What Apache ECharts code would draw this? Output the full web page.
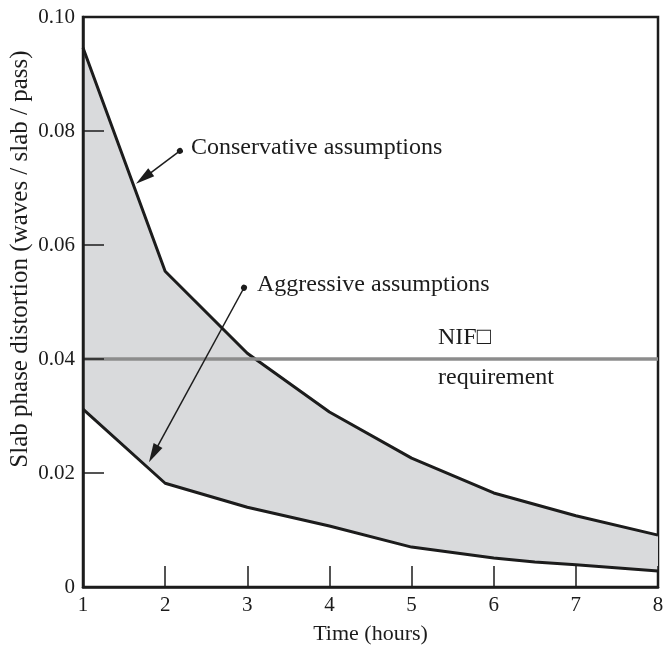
<!DOCTYPE html>
<html>
<head>
<meta charset="utf-8">
<style>
  html, body { margin: 0; padding: 0; background: #ffffff; }
  #chart { width: 663px; height: 645px; }
</style>
<script src="https://cdn.jsdelivr.net/npm/echarts@6/dist/echarts.min.js"></script>
</head>
<body>
<div id="chart"></div>
<script>
// Slab phase distortion versus time: band between two sets of assumptions
const hoursConservative = [1, 2, 3, 4, 5, 6, 7, 8];
const distortionConservative = [0.0946, 0.0554, 0.0410, 0.0307, 0.0226, 0.0165, 0.0125, 0.0091];

const hoursAggressive = [1, 2, 3, 4, 5, 6, 6.5, 7, 8];
const distortionAggressive = [0.0312, 0.0182, 0.0140, 0.0107, 0.0070, 0.0051, 0.0044, 0.0039, 0.0028];

// NIF requirement level
const requirementLevel = 0.04;
const requirementSpan = [1, 8];

// Callout arrows: [label dot, arrowhead centre] in data units
const conservativeArrow = [[2.18, 0.0765], [1.738, 0.07175]];
const aggressiveArrow = [[2.96, 0.0525], [1.858, 0.02336]];

const yTicks = [0, 0.02, 0.04, 0.06, 0.08, 0.10];

const INK = '#1c1c1c';
const SERIF = '"Liberation Serif", "DejaVu Serif", serif';
const ARROWHEAD = 'path://M5,0 L10,20 L0,20 Z';

const upperPts = hoursConservative.map((h, i) => [h, distortionConservative[i]]);
const lowerPts = hoursAggressive.map((h, i) => [h, distortionAggressive[i]]);

const chart = echarts.init(document.getElementById('chart'), null, { renderer: 'canvas' });

chart.setOption({
  animation: false,
  backgroundColor: '#ffffff',
  grid: {
    left: 83, right: 5, top: 17, bottom: 58,
    outerBoundsMode: 'none',
    containLabel: false,
    show: true, borderColor: INK, borderWidth: 2.5, backgroundColor: 'transparent'
  },
  xAxis: {
    type: 'value', min: 1, max: 8, interval: 1, z: 10,
    name: 'Time (hours)', nameLocation: 'middle', nameGap: 36,
    nameTextStyle: { fontFamily: SERIF, fontSize: 22, color: INK },
    axisLine: { lineStyle: { color: INK, width: 2.5 } },
    axisTick: { inside: true, length: 21, lineStyle: { color: INK, width: 1.5 } },
    axisLabel: { fontFamily: SERIF, fontSize: 21, color: INK, margin: 8 },
    splitLine: { show: false }
  },
  yAxis: {
    type: 'value', min: 0, max: 0.1, interval: 0.02, z: 10,
    axisLine: { lineStyle: { color: INK, width: 2.5 } },
    axisTick: { inside: true, length: 21, lineStyle: { color: INK, width: 1.5 } },
    axisLabel: {
      fontFamily: SERIF, fontSize: 21, color: INK, margin: 8,
      formatter: v => (yTicks.indexOf(+v.toFixed(2)) === 0 ? '0' : v.toFixed(2))
    },
    splitLine: { show: false }
  },
  series: [
    {
      // shaded band between the two curves
      type: 'custom',
      z: 1,
      silent: true,
      data: [0],
      renderItem: (params, api) => {
        const pts = upperPts.map(p => api.coord(p))
          .concat(lowerPts.slice().reverse().map(p => api.coord(p)));
        return { type: 'polygon', shape: { points: pts }, style: { fill: '#d9dadc' } };
      }
    },
    {
      name: 'Conservative assumptions',
      type: 'line', z: 3, data: upperPts, symbol: 'none',
      lineStyle: { color: INK, width: 3 }
    },
    {
      name: 'Aggressive assumptions',
      type: 'line', z: 3, data: lowerPts, symbol: 'none',
      lineStyle: { color: INK, width: 3 }
    },
    {
      name: 'NIF requirement',
      type: 'line', z: 4, symbol: 'none',
      data: requirementSpan.map(h => [h, requirementLevel]),
      lineStyle: { color: '#8c8c8c', width: 3.5 }
    },
    {
      type: 'lines',
      coordinateSystem: 'cartesian2d',
      z: 5,
      symbol: ['circle', ARROWHEAD],
      symbolSize: [6, [10, 19]],
      lineStyle: { color: INK, width: 1.5, opacity: 1 },
      data: [
        { coords: conservativeArrow },
        { coords: aggressiveArrow }
      ]
    }
  ],
  graphic: [
    {
      type: 'text', left: 191, top: 150 - 14, z: 20,
      style: { text: 'Conservative assumptions', font: '24px ' + SERIF, fill: INK }
    },
    {
      type: 'text', left: 257, top: 287 - 14, z: 20,
      style: { text: 'Aggressive assumptions', font: '24px ' + SERIF, fill: INK }
    },
    {
      type: 'text', left: 438, top: 340 - 14, z: 20,
      style: { text: 'NIF\u25A1', font: '24px ' + SERIF, fill: INK }
    },
    {
      type: 'text', left: 438, top: 380 - 14, z: 20,
      style: { text: 'requirement', font: '24px ' + SERIF, fill: INK }
    },
    {
      type: 'text', z: 20,
      x: 20, y: 259, rotation: Math.PI / 2,
      style: {
        text: 'Slab phase distortion (waves / slab / pass)',
        font: '25px ' + SERIF, fill: INK, align: 'center', verticalAlign: 'middle'
      }
    }
  ]
});
</script>
</body>
</html>
